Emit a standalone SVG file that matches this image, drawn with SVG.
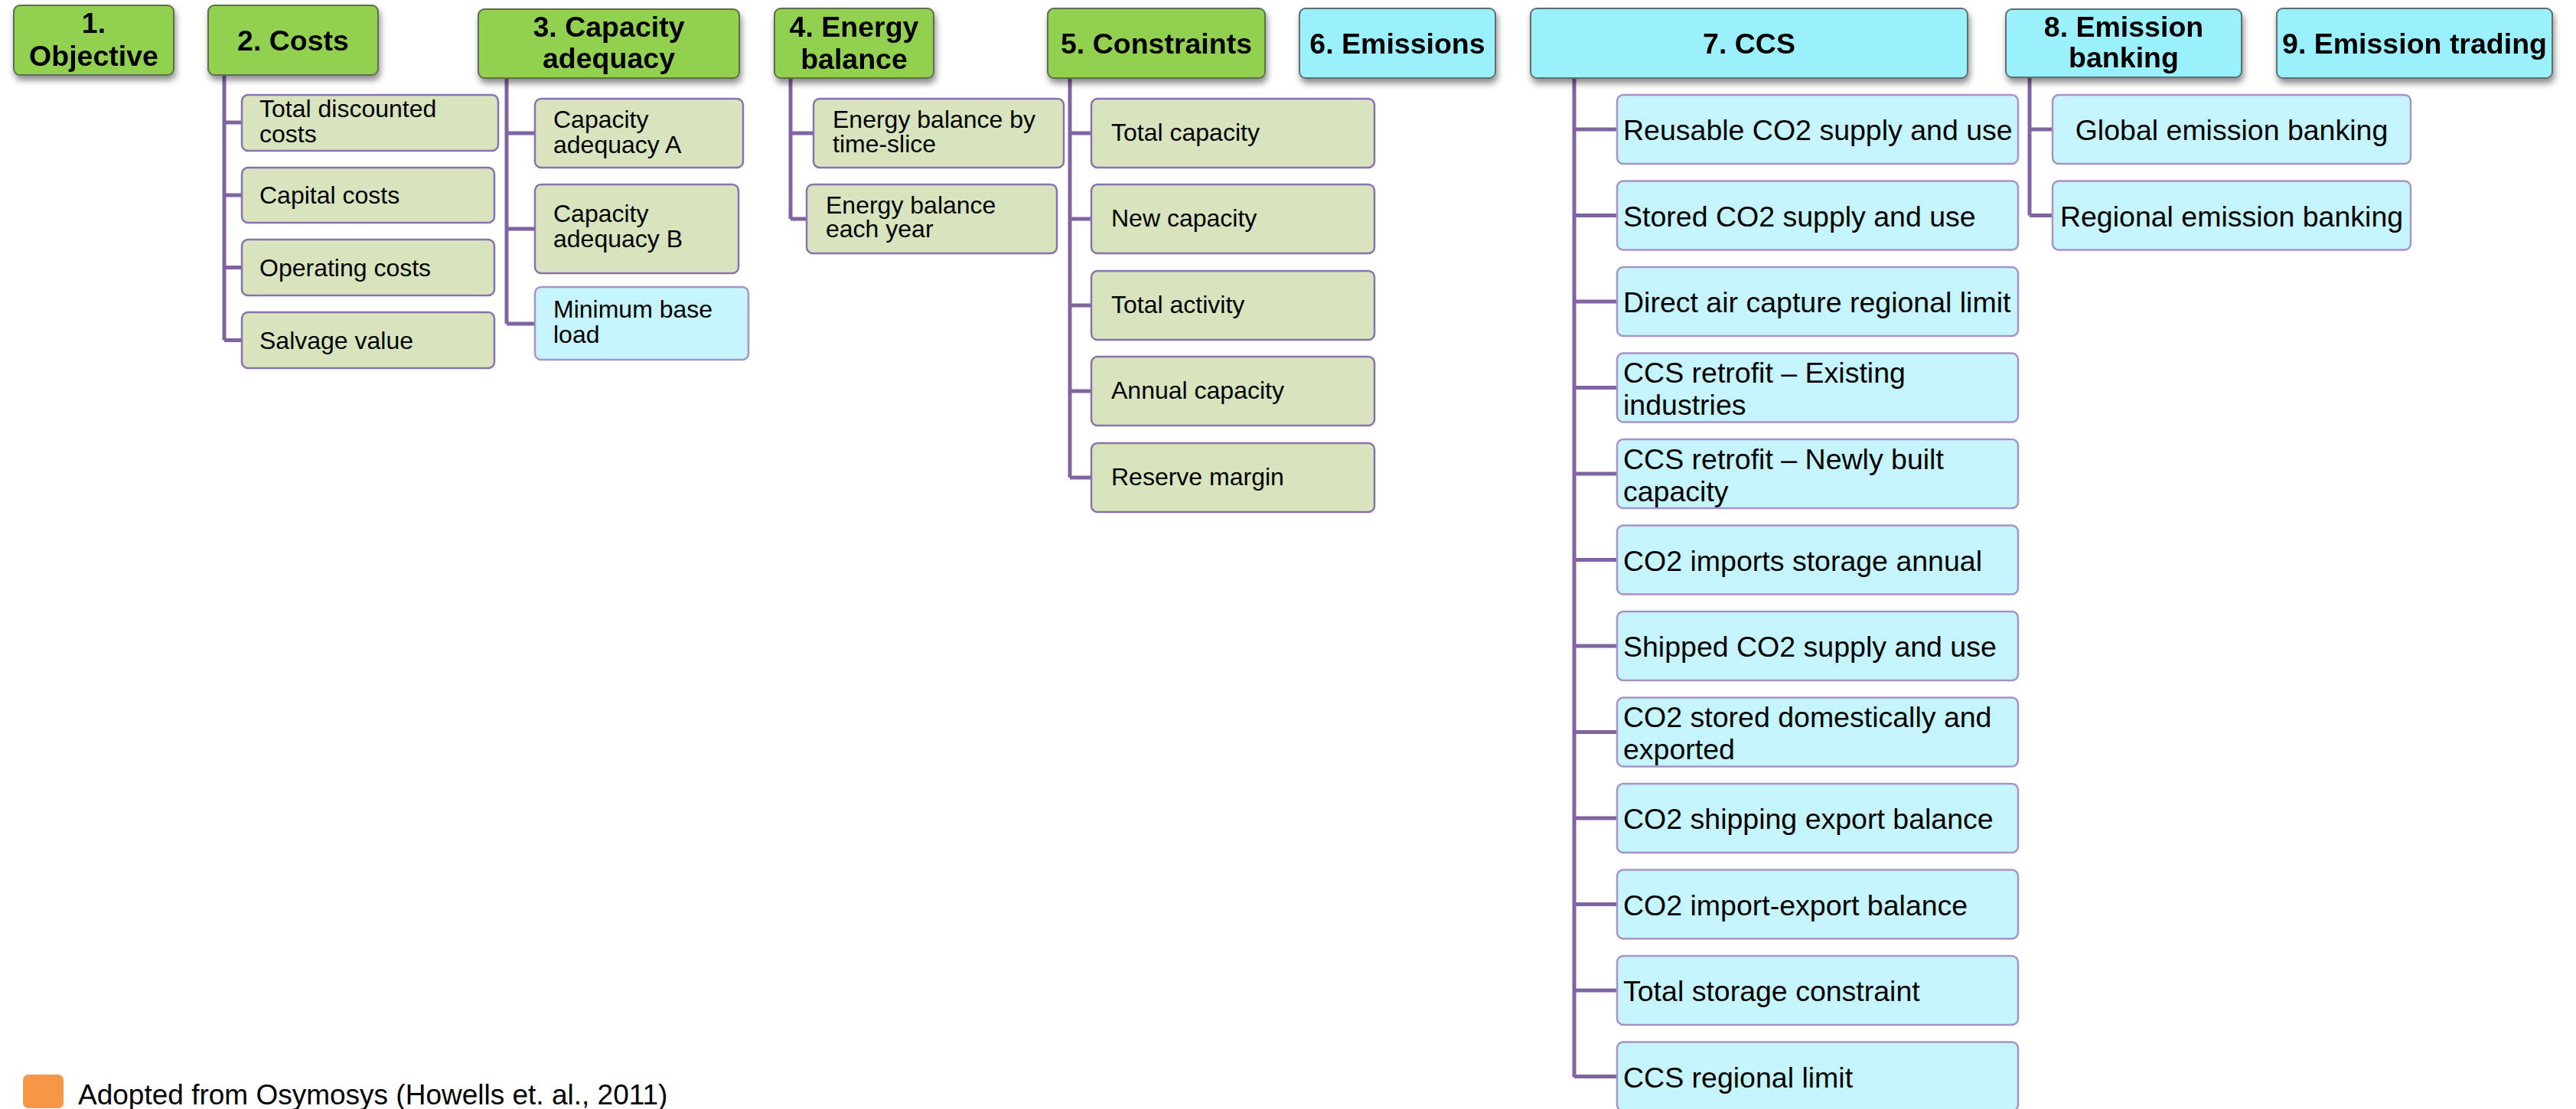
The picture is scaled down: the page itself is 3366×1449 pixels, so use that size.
<svg xmlns="http://www.w3.org/2000/svg" width="3366" height="1449" viewBox="0 0 3366 1449">
<defs>
<filter id="sh" x="-10%" y="-20%" width="120%" height="150%">
<feGaussianBlur in="SourceAlpha" stdDeviation="4"/>
<feOffset dx="2" dy="6" result="b"/>
<feComponentTransfer><feFuncA type="linear" slope="0.45"/></feComponentTransfer>
<feMerge><feMergeNode/><feMergeNode in="SourceGraphic"/></feMerge>
</filter>
</defs>
<style>
text{font-family:"Liberation Sans",Arial,sans-serif;fill:#000}
.hg{fill:#92D050;stroke:#5E6E50;stroke-width:2}
.hc{fill:#9AF1FB;stroke:#5E6E70;stroke-width:2}
.ht{font-size:37.5px;font-weight:bold;text-anchor:middle}
.cg{fill:#D8E4BD;stroke:#8A72B0;stroke-width:2.5}
.cc{fill:#C6F4FC;stroke:#A793C8;stroke-width:2.5}
.t1{font-size:32px}
.t2{font-size:37.5px}
.mid{text-anchor:middle}
.ln{stroke:#8064A2;stroke-width:5;fill:none}
</style>

<g id="connectors">
<path class="ln" d="M293,98V444.5M293,160H316M293,255H316M293,349.5H316M293,444.5H316"/>
<path class="ln" d="M662,102V423M662,174H699M662,299H699M662,423H699"/>
<path class="ln" d="M1033,102V286M1033,174H1063M1033,286H1054"/>
<path class="ln" d="M1398,102V624M1398,174H1426M1398,286H1426M1398,399H1426M1398,511H1426M1398,624H1426"/>
<path class="ln" d="M2057,102V1407.5M2057,169H2113M2057,281.5H2113M2057,394H2113M2057,506.5H2113M2057,619H2113M2057,731.5H2113M2057,844H2113M2057,956.5H2113M2057,1069H2113M2057,1181.5H2113M2057,1294H2113M2057,1406.5H2113"/>
<path class="ln" d="M2652,101V281.5M2652,169H2682M2652,281.5H2682"/>
</g>

<g id="h1" filter="url(#sh)"><rect class="hg" x="18" y="7" width="209" height="91" rx="8"/><text class="ht" x="122.5" y="43">1.</text><text class="ht" x="122.5" y="86">Objective</text></g>
<g id="h2" filter="url(#sh)"><rect class="hg" x="272" y="7" width="222" height="91" rx="8"/><text class="ht" x="383" y="66">2. Costs</text></g>
<g id="h3" filter="url(#sh)"><rect class="hg" x="625" y="12" width="341" height="90" rx="8"/><text class="ht" x="795.5" y="48">3. Capacity</text><text class="ht" x="795.5" y="89">adequacy</text></g>
<g id="h4" filter="url(#sh)"><rect class="hg" x="1012" y="11" width="208" height="91" rx="8"/><text class="ht" x="1116" y="48">4. Energy</text><text class="ht" x="1116" y="90">balance</text></g>
<g id="h5" filter="url(#sh)"><rect class="hg" x="1369" y="11" width="284" height="91" rx="8"/><text class="ht" x="1511" y="70">5. Constraints</text></g>
<g id="h6" filter="url(#sh)"><rect class="hc" x="1698" y="11" width="256" height="91" rx="8"/><text class="ht" x="1826" y="70">6. Emissions</text></g>
<g id="h7" filter="url(#sh)"><rect class="hc" x="2000" y="11" width="571" height="91" rx="8"/><text class="ht" x="2285.5" y="70">7. CCS</text></g>
<g id="h8" filter="url(#sh)"><rect class="hc" x="2621" y="12" width="308" height="89" rx="8"/><text class="ht" x="2775" y="48">8. Emission</text><text class="ht" x="2775" y="88">banking</text></g>
<g id="h9" filter="url(#sh)"><rect class="hc" x="2975" y="11" width="360" height="91" rx="8"/><text class="ht" x="3155" y="70">9. Emission trading</text></g>

<g id="c2a"><rect class="cg" x="316" y="124" width="335" height="73" rx="8"/><text class="t1" x="339" y="153">Total discounted</text><text class="t1" x="339" y="186">costs</text></g>
<g id="c2b"><rect class="cg" x="316" y="219" width="330" height="72" rx="8"/><text class="t1" x="339" y="266">Capital costs</text></g>
<g id="c2c"><rect class="cg" x="316" y="313" width="330" height="73" rx="8"/><text class="t1" x="339" y="361">Operating costs</text></g>
<g id="c2d"><rect class="cg" x="316" y="408" width="330" height="73" rx="8"/><text class="t1" x="339" y="456">Salvage value</text></g>

<g id="c3a"><rect class="cg" x="699" y="129" width="272" height="90" rx="8"/><text class="t1" x="723" y="167">Capacity</text><text class="t1" x="723" y="200">adequacy A</text></g>
<g id="c3b"><rect class="cg" x="699" y="241" width="266" height="116" rx="8"/><text class="t1" x="723" y="290">Capacity</text><text class="t1" x="723" y="323">adequacy B</text></g>
<g id="c3c"><rect class="cc" x="699" y="375" width="279" height="95" rx="8"/><text class="t1" x="723" y="415">Minimum base</text><text class="t1" x="723" y="448">load</text></g>

<g id="c4a"><rect class="cg" x="1063" y="129" width="327" height="90" rx="8"/><text class="t1" x="1088" y="167">Energy balance by</text><text class="t1" x="1088" y="199">time-slice</text></g>
<g id="c4b"><rect class="cg" x="1054" y="241" width="327" height="90" rx="8"/><text class="t1" x="1079" y="279">Energy balance</text><text class="t1" x="1079" y="310">each year</text></g>

<g id="c5a"><rect class="cg" x="1426" y="129" width="370" height="90" rx="8"/><text class="t1" x="1452" y="184">Total capacity</text></g>
<g id="c5b"><rect class="cg" x="1426" y="241" width="370" height="90" rx="8"/><text class="t1" x="1452" y="296">New capacity</text></g>
<g id="c5c"><rect class="cg" x="1426" y="354" width="370" height="90" rx="8"/><text class="t1" x="1452" y="409">Total activity</text></g>
<g id="c5d"><rect class="cg" x="1426" y="466" width="370" height="90" rx="8"/><text class="t1" x="1452" y="521">Annual capacity</text></g>
<g id="c5e"><rect class="cg" x="1426" y="579" width="370" height="90" rx="8"/><text class="t1" x="1452" y="634">Reserve margin</text></g>

<g id="c7a"><rect class="cc" x="2113" y="124" width="524" height="90" rx="8"/><text class="t2" x="2121" y="183">Reusable CO2 supply and use</text></g>
<g id="c7b"><rect class="cc" x="2113" y="236.5" width="524" height="90" rx="8"/><text class="t2" x="2121" y="295.5">Stored CO2 supply and use</text></g>
<g id="c7c"><rect class="cc" x="2113" y="349" width="524" height="90" rx="8"/><text class="t2" x="2121" y="408">Direct air capture regional limit</text></g>
<g id="c7d"><rect class="cc" x="2113" y="461.5" width="524" height="90" rx="8"/><text class="t2" x="2121" y="500">CCS retrofit – Existing</text><text class="t2" x="2121" y="542">industries</text></g>
<g id="c7e"><rect class="cc" x="2113" y="574" width="524" height="90" rx="8"/><text class="t2" x="2121" y="612.5">CCS retrofit – Newly built</text><text class="t2" x="2121" y="654.5">capacity</text></g>
<g id="c7f"><rect class="cc" x="2113" y="686.5" width="524" height="90" rx="8"/><text class="t2" x="2121" y="745.5">CO2 imports storage annual</text></g>
<g id="c7g"><rect class="cc" x="2113" y="799" width="524" height="90" rx="8"/><text class="t2" x="2121" y="858">Shipped CO2 supply and use</text></g>
<g id="c7h"><rect class="cc" x="2113" y="911.5" width="524" height="90" rx="8"/><text class="t2" x="2121" y="950">CO2 stored domestically and</text><text class="t2" x="2121" y="992">exported</text></g>
<g id="c7i"><rect class="cc" x="2113" y="1024" width="524" height="90" rx="8"/><text class="t2" x="2121" y="1083">CO2 shipping export balance</text></g>
<g id="c7j"><rect class="cc" x="2113" y="1136.5" width="524" height="90" rx="8"/><text class="t2" x="2121" y="1195.5">CO2 import-export balance</text></g>
<g id="c7k"><rect class="cc" x="2113" y="1249" width="524" height="90" rx="8"/><text class="t2" x="2121" y="1308">Total storage constraint</text></g>
<g id="c7l"><rect class="cc" x="2113" y="1361.5" width="524" height="90" rx="8"/><text class="t2" x="2121" y="1420.5">CCS regional limit</text></g>

<g id="c8a"><rect class="cc" x="2682" y="124" width="468" height="90" rx="8"/><text class="t2 mid" x="2916" y="183">Global emission banking</text></g>
<g id="c8b"><rect class="cc" x="2682" y="236.5" width="468" height="90" rx="8"/><text class="t2 mid" x="2916" y="295.5">Regional emission banking</text></g>

<g id="legend"><rect x="30" y="1404" width="53" height="44" rx="7" fill="#F79646"/><text x="102" y="1443" style="font-size:37px">Adopted from Osymosys (Howells et. al., 2011)</text></g>
</svg>
